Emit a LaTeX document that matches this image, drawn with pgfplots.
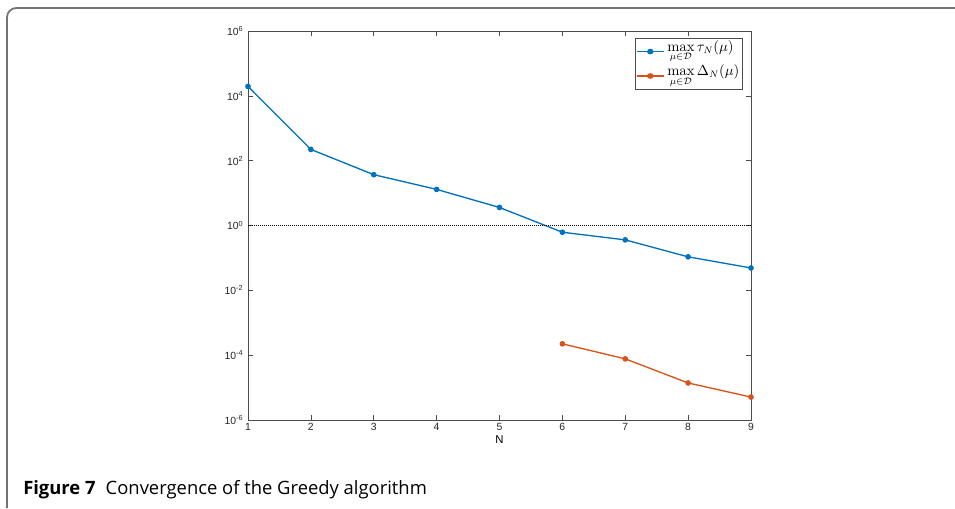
\documentclass[border=0pt]{standalone}
\usepackage[no-math]{fontspec}
\setmainfont{Liberation Sans}
\newfontfamily\capfont{Open Sans}
\usepackage{pgfplots}
\pgfplotsset{compat=1.18}

\definecolor{mblue}{rgb}{0,0.447,0.741}
\definecolor{morange}{rgb}{0.85,0.325,0.098}
\definecolor{axgray}{rgb}{0.3,0.3,0.3}

\begin{document}
\begin{tikzpicture}[x=0.75pt,y=0.75pt]
\useasboundingbox (0,0) rectangle (955,508);
% frame of the figure
\draw[black!55, line width=1.3pt, rounded corners=7pt] (7,0) -- (7,500) -- (956,500);

\begin{axis}[
    at={(186pt,66pt)}, anchor=south west,
    scale only axis,
    width=377.25pt, height=291.75pt,
    ymode=log,
    xmin=1, xmax=9, ymin=1e-6, ymax=1e6,
    xtick={1,...,9},
    ytick={1e-6,1e-4,1e-2,1,1e2,1e4,1e6},
    yticklabels={10\textsuperscript{-6},10\textsuperscript{-4},10\textsuperscript{-2},10\textsuperscript{0},10\textsuperscript{2},10\textsuperscript{4},10\textsuperscript{6}},
    minor ytick={},
    log basis y=10,
    tick align=inside,
    major tick length=4pt,
    axis line style={axgray, line width=0.6pt},
    tick style={axgray, line width=0.5pt},
    /pgf/number format/assume math mode=true,
    ticklabel style={font=\fontsize{7.8}{9}\selectfont, text=black!85},
    xticklabel style={yshift=1pt},
    xlabel={N},
    xlabel style={font=\fontsize{8.5}{10}\selectfont, yshift=3.5pt},
    legend style={at={(1,1)}, anchor=north east, xshift=-6pt, yshift=-5pt,
        draw=axgray, line width=0.5pt, font=\fontsize{10.5}{12}\selectfont,
        inner sep=0.5pt, row sep=-1pt,
        nodes={text height=1.4ex, text depth=1.5ex}},
    legend image post style={xscale=1.2},
    legend cell align=left,
]
\addplot[mblue, line width=1pt, mark=*, mark size=1.6pt] coordinates {
    (1, 1.95e4)
    (2, 222)
    (3, 37)
    (4, 13)
    (5, 3.6)
    (6, 0.62)
    (7, 0.36)
    (8, 0.108)
    (9, 0.049)
};
\addlegendentry{$\max\limits_{\mu\in\mathcal{D}} \tau_N(\mu)$}
\addplot[morange, line width=1pt, mark=*, mark size=1.6pt] coordinates {
    (6, 2.24e-4)
    (7, 7.7e-5)
    (8, 1.39e-5)
    (9, 5.1e-6)
};
\addlegendentry{$\max\limits_{\mu\in\mathcal{D}} \Delta_N(\mu)$}
\addplot[black, densely dotted, line width=0.5pt, forget plot] coordinates {(1,1) (9,1)};
\end{axis}

\node[anchor=base west, font=\capfont\fontsize{13.8}{16}\selectfont, inner sep=0pt] at (23,14)
    {\textbf{Figure 7}\hspace{0.55em}Convergence of the Greedy algorithm};
\end{tikzpicture}
\end{document}
